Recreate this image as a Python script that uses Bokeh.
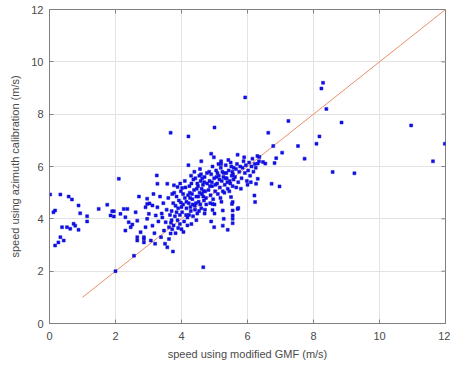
import math
from bokeh.plotting import figure
from bokeh.models import FixedTicker, ColumnDataSource
from bokeh.embed import file_html
from bokeh.resources import INLINE

# (speed modified GMF, speed azimuth calibration) in m/s
low_wind = [(0.02,4.93),(0.33,4.93),(0.58,4.85),(0.68,4.74),(0.88,4.51),(0.17,4.32),(0.12,4.25),(0.93,4.21),(1.14,4.10),(1.14,3.90),
            (0.38,3.68),(0.53,3.68),(0.63,3.62),(0.73,3.81),(0.88,3.58),(0.78,3.74),(0.33,3.30),(0.43,3.17),(0.27,3.10),(0.17,2.98)]
mid_left = [(2.10,5.53),(1.49,4.38),(1.75,4.54),(1.90,4.29),(1.95,4.29),(1.85,4.13),(1.95,4.09),(2.25,4.38),(2.36,4.38),(2.15,4.19),
            (2.30,4.06),(2.40,3.87),(2.51,3.78),(2.46,3.68),(2.30,3.55),(2.61,4.25),(2.66,3.93),(2.71,4.85),(2.76,3.49),(2.66,3.30),
            (2.66,3.17),(2.86,3.30),(2.86,3.10),(2.96,4.77),(2.96,4.57),(2.91,4.44),(3.01,4.19),(2.96,4.00),(2.91,3.68),(2.00,2.00),
            (2.56,2.59),(3.74,2.75),(4.66,2.15)]
group_a = [(3.03,4.59),(3.12,4.51),(3.27,4.44),(3.22,4.13),(3.12,3.74),(3.07,3.17),(2.86,3.23),(3.47,3.55),(3.52,3.87),(3.62,3.68),
           (3.67,3.44),(3.62,3.23),(3.57,2.91),(3.25,5.66),(3.27,5.34),(3.57,5.34),(3.77,5.28),(3.35,4.85),(3.40,4.20),(3.30,3.90),
           (3.45,4.60),(3.55,4.35),(3.18,3.45),(3.38,3.30),(3.50,3.05),(3.20,3.05),(3.42,4.05),(3.60,4.80),(3.15,4.95),(3.70,3.95)]
group_b = [(3.70,4.30),(3.75,4.60),(3.80,4.10),(3.85,4.85),(3.90,4.40),(3.95,3.80),(3.72,3.60),(3.82,3.45),(3.88,3.95),(3.92,4.70),
           (3.98,5.05),(4.02,4.25),(4.05,4.55),(4.08,3.90),(4.10,4.80),(4.12,5.20),(4.15,4.40),(4.18,4.05),(4.00,3.60),(3.78,5.00),
           (3.65,4.15),(3.85,4.25),(3.95,4.15),(4.05,4.95),(4.15,4.65),(3.68,3.85),(3.76,3.75),(3.90,3.65),(4.00,4.45),(4.20,4.90),
           (4.10,5.45),(3.96,5.35),(4.18,3.75),(3.82,4.50),(4.06,3.50),(3.72,4.95),(4.14,4.15),(3.98,4.62),(4.02,5.18),(3.88,5.22)]
group_c = [(4.22,4.60),(4.25,5.00),(4.28,4.30),(4.30,5.35),(4.33,4.75),(4.35,4.10),(4.38,5.10),(4.40,4.50),(4.42,5.55),(4.45,4.85),
           (4.48,4.20),(4.50,5.25),(4.52,4.65),(4.55,5.00),(4.58,5.45),(4.60,4.40),(4.62,4.95),(4.65,5.30),(4.68,4.70),(4.70,5.60),
           (4.72,5.05),(4.75,4.55),(4.78,5.35),(4.24,5.25),(4.27,4.45),(4.32,4.95),(4.36,5.50),(4.41,4.35),(4.46,5.15),(4.51,4.85),
           (4.54,5.65),(4.57,4.55),(4.61,5.15),(4.66,4.85),(4.69,5.40),(4.74,4.80),(4.77,5.75),(4.26,4.80),(4.44,4.60),(4.63,5.55),
           (4.39,5.80),(4.56,5.90),(4.48,5.35),(4.34,4.55),(4.71,4.35),(4.29,5.65),(4.53,4.30),(4.67,5.05),(4.23,4.15),(4.59,5.70),
           (4.21,6.05),(4.60,6.20),(4.45,3.95),(4.30,3.80),(4.70,4.20)]
group_d = [(4.82,5.10),(4.85,5.45),(4.88,4.90),(4.90,5.70),(4.93,5.25),(4.96,4.75),(4.99,5.55),(5.02,5.05),(5.05,5.85),(5.08,5.35),
           (5.10,4.95),(5.13,5.65),(5.16,5.20),(5.19,5.95),(5.22,5.45),(5.25,5.05),(5.28,5.75),(5.31,5.30),(5.34,6.05),(5.37,5.55),
           (5.40,5.15),(5.43,5.85),(5.46,5.45),(5.49,6.15),(5.52,5.65),(5.55,5.25),(5.58,5.95),(4.84,5.80),(4.87,4.60),(4.94,6.00),
           (5.00,4.55),(5.06,5.60),(5.12,6.10),(5.18,4.80),(5.24,5.80),(5.30,5.00),(5.36,5.75),(5.42,6.25),(5.48,5.35),(5.54,5.80),
           (5.58,5.50),(4.92,5.40),(5.03,5.30),(5.15,5.50),(5.27,5.60),(5.39,5.40),(5.51,6.00),(4.98,6.35),(5.20,6.20),(5.45,5.05),
           (4.86,5.25),(5.09,5.75),(5.33,5.55),(5.56,5.70),(5.21,4.65),(4.90,3.90),(5.00,4.20),
           (4.99,3.68),(5.25,3.74),(5.28,4.00),(5.25,4.32),(5.55,4.32),(5.55,4.13),(5.55,4.00),(5.55,3.83),(5.72,4.41),(5.55,4.64),
           (6.23,4.64),(4.94,4.57),(4.94,4.34),(5.40,3.58),(5.70,4.38),(5.50,4.83),(5.53,4.57)]
group_e = [(5.62,5.60),(5.65,5.90),(5.68,6.10),(5.72,5.40),(5.75,5.80),(5.78,6.00),(5.82,5.55),(5.85,5.95),(5.88,6.20),(5.92,5.75),
           (5.95,6.05),(5.98,5.45),(6.02,5.85),(6.05,6.15),(6.08,5.65),(6.12,6.00),(6.15,6.30),(6.18,5.80),(6.22,6.10),(6.25,5.95),
           (6.30,6.40),(5.66,5.20),(5.80,5.15),(5.90,6.35),(6.00,5.30),(6.10,5.40),(6.35,6.20),(5.70,6.45),
           (6.26,5.34),(6.31,5.53),(6.21,4.89),(6.73,5.34),(6.97,5.24),(4.90,6.49),(5.20,6.10),
           (6.36,6.36),(6.31,6.11),(6.47,6.17),(6.54,6.11)]
outliers = [(5.93,8.64),(8.29,9.20),(8.24,8.98),(8.39,8.20),(7.24,7.74),(8.85,7.68),(10.96,7.57),(6.63,7.29),(8.18,7.15),(8.09,6.87),
            (7.53,6.78),(6.78,6.78),(7.05,6.53),(6.87,6.32),(7.73,6.30),(6.82,6.13),(11.98,6.87),(11.62,6.20),(8.58,5.79),(9.24,5.74),
            (3.67,7.29),(4.21,7.15),(5.00,7.49)]

line_x = [1, 12]
line_y = [1, 12]
ticks = [0, 2, 4, 6, 8, 10, 12]
axis_max = 12

pts = low_wind + mid_left + group_a + group_b + group_c + group_d + group_e + outliers
src = ColumnDataSource(dict(x=[p[0] for p in pts], y=[p[1] for p in pts]))

FONT = "Liberation Sans"
AX = "#808080"
p = figure(width=450, height=362, x_range=(0, 12), y_range=(0, 12),
           output_backend="svg", toolbar_location=None,
           min_border_left=49, min_border_right=5, min_border_top=9, min_border_bottom=39)
p.background_fill_color = "white"
p.border_fill_color = "white"
p.outline_line_color = AX
p.outline_line_width = 1

for ax in (p.xaxis[0], p.yaxis[0]):
    ax.ticker = FixedTicker(ticks=ticks)
    ax.major_tick_in = 4
    ax.major_tick_out = 0
    ax.minor_tick_in = 0
    ax.minor_tick_out = 0
    ax.axis_line_color = AX
    ax.major_tick_line_color = AX
    ax.major_label_text_font = FONT
    ax.major_label_text_font_size = "11px"
    ax.major_label_text_color = "#4a4a4a"
    ax.axis_label_text_font = FONT
    ax.axis_label_text_font_size = "11px"
    ax.axis_label_text_font_style = "normal"
    ax.axis_label_text_color = "#4a4a4a"
p.xaxis[0].axis_label = "speed using modified GMF (m/s)"
p.yaxis[0].axis_label = "speed using azimuth calibration (m/s)"
p.xaxis[0].major_label_standoff = 8
p.yaxis[0].major_label_standoff = 6
p.xaxis[0].axis_label_standoff = 5
p.yaxis[0].axis_label_standoff = 7

p.xgrid.ticker = FixedTicker(ticks=ticks)
p.ygrid.ticker = FixedTicker(ticks=ticks)
p.grid.grid_line_color = "#e3e3e3"
p.grid.grid_line_width = 1

# inward box ticks on top and right edges (clipped to the frame)
p.scatter(ticks, [axis_max] * len(ticks), marker="dash", angle=math.pi / 2, size=8,
          line_color=AX, line_width=1)
p.scatter([axis_max] * len(ticks), ticks, marker="dash", size=8,
          line_color=AX, line_width=1)

p.line(line_x, line_y, line_color="#e8906a", line_width=1)
p.scatter("x", "y", source=src, marker="square", size=3, fill_color="#1010e0",
          line_color="#1010e0", line_width=0.5)

open("out.html", "w").write(file_html(p, INLINE))
